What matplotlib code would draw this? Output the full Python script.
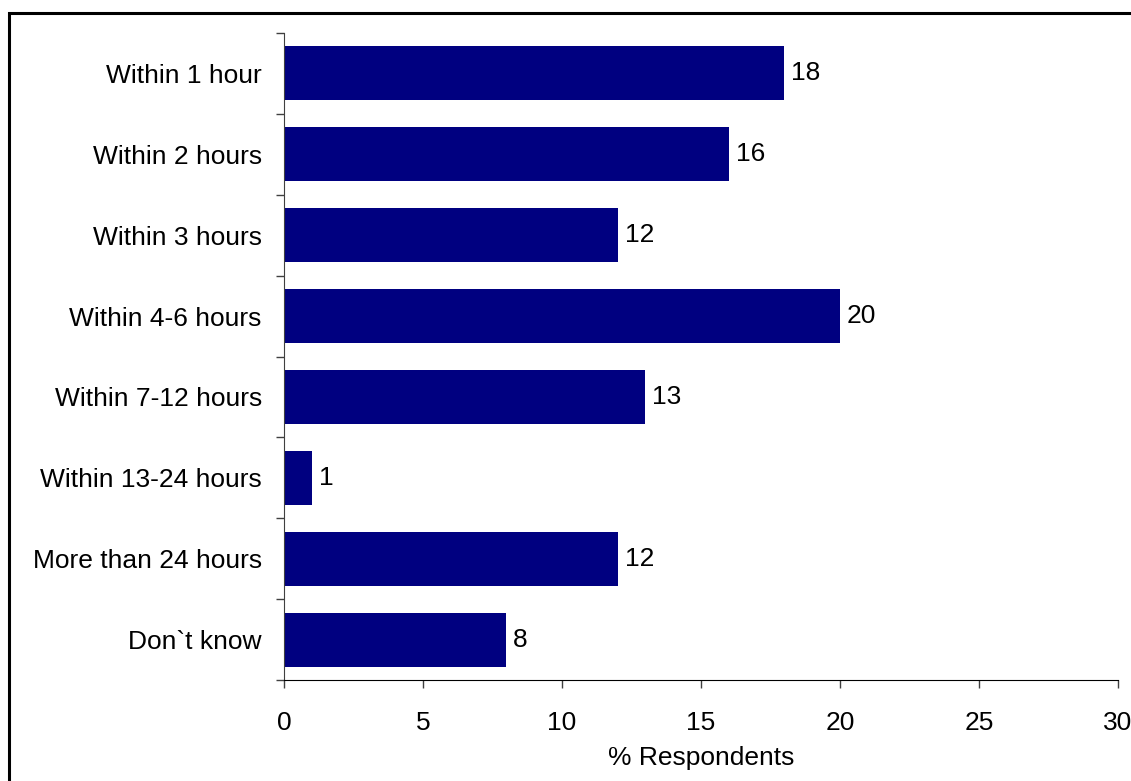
import matplotlib.pyplot as plt
from matplotlib.patches import Rectangle

categories = ["Within 1 hour", "Within 2 hours", "Within 3 hours", "Within 4-6 hours",
              "Within 7-12 hours", "Within 13-24 hours", "More than 24 hours", "Don`t know"]
values = [18, 16, 12, 20, 13, 1, 12, 8]
xticks = [0, 5, 10, 15, 20, 25, 30]

plt.rcParams['font.family'] = ['Liberation Sans', 'DejaVu Sans']
FS = 19

W, H = 1131, 781
fig = plt.figure(figsize=(W / 100, H / 100), dpi=100)

# outer frame round the chart area
fig.patches.append(Rectangle((9 / W, -0.01), 1.2, (H - 13) / H + 0.01, transform=fig.transFigure,
                             fill=False, edgecolor='black', linewidth=2.2))

ax = fig.add_axes([284 / W, (H - 680) / H, (1118 - 284) / W, (680 - 33) / H])

n = len(categories)
pos = list(range(n))
ax.barh(pos, values, height=0.667, color='#000080')
for p, v in zip(pos, values):
    ax.text(v + 0.25, p, str(v), va='center', ha='left', fontsize=FS)

ax.set_ylim(n - 0.5, -0.5)
ax.set_xlim(0, 30)

ax.set_yticks(pos)
ax.set_yticklabels(categories, fontsize=FS)
ax.tick_params(axis='y', which='major', length=0, pad=16)
ax.set_yticks([i - 0.5 for i in range(n + 1)], minor=True)
ax.tick_params(axis='y', which='minor', length=6, width=1, direction='out', color='#404040')

ax.set_xticks(xticks)
ax.set_xticklabels([str(t) for t in xticks], fontsize=FS)
ax.tick_params(axis='x', length=5.5, width=1, direction='out', pad=17, color='#404040')
ax.set_xlabel("% Respondents", fontsize=FS, labelpad=8)

for s in ['top', 'right']:
    ax.spines[s].set_visible(False)
ax.spines['left'].set_color('#404040')
ax.spines['bottom'].set_color('black')

fig.savefig('out.png', dpi=100)
